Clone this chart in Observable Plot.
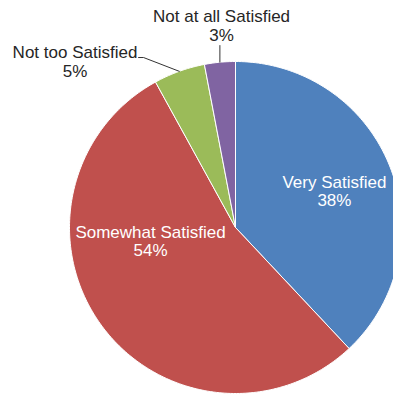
<!DOCTYPE html>
<html><head><meta charset="utf-8">
<script src="https://cdn.jsdelivr.net/npm/d3@7"></script>
<script src="https://cdn.jsdelivr.net/npm/@observablehq/plot@0.6"></script>
<style>
body{margin:0;overflow:hidden;background:#fff}
#chart{width:393px;height:394px;overflow:hidden}
</style>
</head><body><div id="chart"></div>
<script>
const categories = ["Very Satisfied", "Somewhat Satisfied", "Not too Satisfied", "Not at all Satisfied"];
const values = [38, 54, 5, 3];
const colors = ["#4F81BD", "#C0504D", "#9BBB59", "#8064A2"];
// label anchors in pie-radius units (x right, y up, centre = 0,0)
const labelPos = [[0.596, 0.219], [-0.512, -0.082], [-0.967, 0.998], [-0.084, 1.216]];
const insideLabel = [true, true, false, false];
// leader-line elbow points (pie-radius units) for outside labels
const leaderElbows = [null, null, [[-0.584, 1.024], [-0.554, 1.024]], [[-0.094, 1.096]]];

const total = d3.sum(values);
const slices = [];
const leaders = [];
let acc = 0;
values.forEach((v, i) => {
  const a0 = acc / total * 2 * Math.PI;
  acc += v;
  const a1 = acc / total * 2 * Math.PI;
  const n = Math.max(4, Math.ceil((a1 - a0) / (Math.PI / 180)));
  slices.push({cat: categories[i], x: 0, y: 0});
  for (let k = 0; k <= n; k++) {
    const a = a0 + (a1 - a0) * k / n;
    slices.push({cat: categories[i], x: Math.sin(a), y: Math.cos(a)});
  }
  slices.push({cat: categories[i], x: 0, y: 0});
  if (leaderElbows[i]) {
    const am = (a0 + a1) / 2;
    leaderElbows[i].forEach(([x, y]) => leaders.push({cat: categories[i], x, y}));
    leaders.push({cat: categories[i], x: Math.sin(am), y: Math.cos(am)});
  }
});

const labels = categories.map((c, i) => ({
  text: `${c}\n${values[i]}%`, x: labelPos[i][0], y: labelPos[i][1], inside: insideLabel[i]
}));

const font = "Liberation Sans, Arial, Helvetica, sans-serif";
const chart = Plot.plot({
  width: 393,
  height: 394,
  margin: 0,
  style: {fontFamily: font, background: "#fff"},
  x: {domain: [-1, 1], range: [69, 401], axis: null},
  y: {domain: [-1, 1], range: [393, 61], axis: null},
  color: {domain: categories, range: colors},
  marks: [
    Plot.line(slices, {x: "x", y: "y", z: "cat", fill: "cat", stroke: "#fff", strokeWidth: 1, curve: "linear"}),
    Plot.line(leaders, {x: "x", y: "y", z: "cat", stroke: "#333", strokeWidth: 1}),
    Plot.text(labels.filter(d => d.inside), {x: "x", y: "y", text: "text", fill: "#fff", fontSize: 17, lineHeight: 1.1, textAnchor: "middle", fontFamily: font}),
    Plot.text(labels.filter(d => !d.inside), {x: "x", y: "y", text: "text", fill: "#262626", fontSize: 17, lineHeight: 1.1, textAnchor: "middle", fontFamily: font})
  ]
});
document.getElementById("chart").appendChild(chart);
</script>
</body></html>
